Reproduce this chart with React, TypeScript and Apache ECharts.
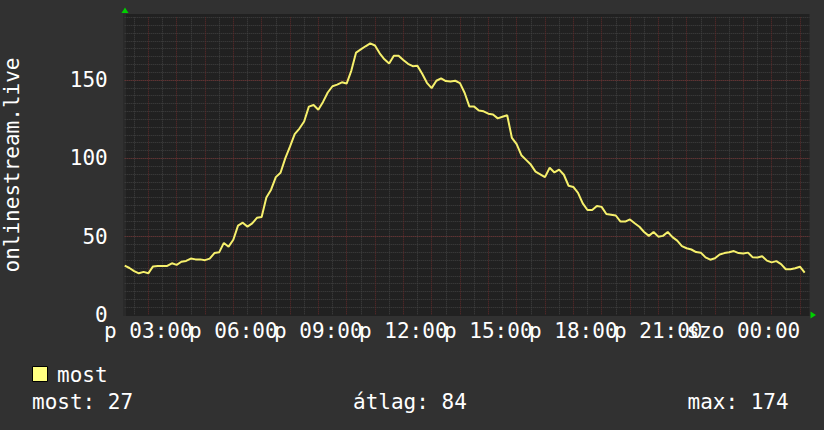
import React, { useEffect, useRef } from "react";
import * as echarts from "echarts";

// Time axis: 10-minute steps starting 02:10 (p = péntek), ending 02:20 next day (szo)
const START_MINUTE = 130;
const STEP_MINUTES = 10;
const CATEGORY_COUNT = 146;
const DAY_NAMES = ["p", "szo"];

const xTickLabels = [
  "p 03:00",
  "p 06:00",
  "p 09:00",
  "p 12:00",
  "p 15:00",
  "p 18:00",
  "p 21:00",
  "szo 00:00",
];
const yTickLabels = [0, 50, 100, 150];

const mostValues = [
  31.5, 30, 28, 26.6, 27.5, 26.6, 31, 31.3, 31.3, 31.3,
  33, 32, 34, 34.5, 36, 35.5, 35.5, 35, 36, 39.5,
  40, 46, 43.6, 48, 57, 58.9, 56.4, 58.5, 62, 62.5,
  75, 80, 88, 90.8, 100, 107.4, 115.5, 119, 123.5, 133,
  134, 131, 136, 142, 146, 147, 148.5, 147.7, 156, 167.5,
  169.5, 171.5, 173.4, 172, 167, 163.2, 160.5, 165.5, 165.5, 162.8,
  160.3, 158.8, 159, 154, 148.2, 144.8, 149.5, 151, 149.3, 149,
  149.5, 148, 141.7, 133, 133, 130.5, 130, 128.5, 128, 125.5,
  126.5, 127.5, 113, 109, 102, 99, 96, 91.5, 89.8, 88,
  94, 91, 92.8, 89.5, 82.5, 81.7, 78, 71.2, 67, 67,
  69.6, 69, 64.5, 64, 63.5, 59.6, 59.6, 61, 58.6, 56.3,
  53, 50.5, 53, 50, 50.5, 53, 49.7, 47.5, 44, 42.6,
  41.8, 40.2, 39.8, 36.8, 35.3, 36.2, 38.6, 39.5, 40, 40.8,
  39.5, 39.2, 39.8, 36.8, 36.7, 37.5, 34.7, 33.6, 34.4, 32.5,
  29.2, 29.2, 29.8, 30.8, 27,
];

const seriesName = "most";
const yTitle = "onlinestream.live";
const statTexts = ["most: 27", "átlag: 84", "max: 174"];

const pad = (n: number) => (n < 10 ? "0" + n : "" + n);
const categories: string[] = [];
const minuteOfCat: number[] = [];
for (let i = 0; i < CATEGORY_COUNT; i++) {
  const t = START_MINUTE + i * STEP_MINUTES;
  const day = DAY_NAMES[Math.floor(t / 1440)];
  const m = t % 1440;
  categories.push(day + " " + pad(Math.floor(m / 60)) + ":" + pad(m % 60));
  minuteOfCat.push(m);
}

const FONT = '"DejaVu Sans Mono"';
const GREY = "#424242";
const RED = "#622a2a";
const RED_H = "#723030";
const LINE = "#f6f06c";

export default function App() {
  const ref = useRef<HTMLDivElement>(null);
  useEffect(() => {
    if (!ref.current) return;
    const chart = echarts.init(ref.current, null, { renderer: "svg" });
    const isHalfHour = (i: number) => minuteOfCat[i] % 30 === 0;
    const isHour = (i: number) => minuteOfCat[i] % 60 === 0;
    const labelPos = (i: number) => xTickLabels.indexOf(categories[i]);
    // Labels split over two axes (alternating) so that neighbouring labels,
    // which touch each other as in the reference, are not auto-hidden.
    const labelStyle = {
      showMinLabel: true,
      showMaxLabel: true,
      hideOverlap: false,
      color: "#ffffff",
      fontFamily: FONT,
      fontSize: 21,
      margin: 5,
    };
    chart.setOption({
      animation: false,
      backgroundColor: "#313131",
      grid: {
        left: 124.7,
        right: 14.6,
        top: 17.3,
        bottom: 115,
        containLabel: false,
        outerBoundsMode: "none",
      },
      xAxis: [
        {
          type: "category",
          data: categories,
          boundaryGap: false,
          position: "bottom",
          axisLine: { show: false },
          axisTick: { show: false },
          axisLabel: {
            ...labelStyle,
            interval: (i: number) => labelPos(i) >= 0 && labelPos(i) % 2 === 0,
          },
          splitLine: {
            show: true,
            interval: (i: number) => isHour(i),
            lineStyle: { color: RED, type: [1, 1], width: 1 },
          },
          z: 1,
        },
        {
          type: "category",
          data: categories,
          boundaryGap: false,
          position: "bottom",
          axisLine: { show: false },
          axisTick: { show: false },
          axisLabel: {
            ...labelStyle,
            interval: (i: number) => labelPos(i) >= 0 && labelPos(i) % 2 === 1,
          },
          splitLine: {
            show: true,
            interval: (i: number) => isHalfHour(i) && !isHour(i),
            lineStyle: { color: GREY, type: [1, 1], width: 1 },
          },
          z: 0,
        },
      ],
      yAxis: [
        {
          type: "value",
          min: 0,
          max: 190,
          interval: 50,
          position: "left",
          axisLine: { show: false },
          axisTick: { show: false },
          axisLabel: {
            color: "#ffffff",
            fontFamily: FONT,
            fontSize: 21,
            margin: 17,
            showMaxLabel: false,
            formatter: (v: number) => (yTickLabels.indexOf(v) >= 0 ? String(v) : ""),
          },
          splitLine: {
            show: true,
            showMinLine: false,
            showMaxLine: false,
            lineStyle: { color: RED_H, type: [1, 1], width: 1 },
          },
          z: 1,
        },
        {
          type: "value",
          min: 0,
          max: 190,
          interval: 5,
          position: "left",
          axisLine: { show: false },
          axisTick: { show: false },
          axisLabel: { show: false },
          splitLine: {
            show: true,
            showMinLine: false,
            lineStyle: { color: GREY, type: [1, 1], width: 1 },
          },
          z: 0,
        },
      ],
      series: [
        {
          name: seriesName,
          type: "line",
          xAxisIndex: 0,
          yAxisIndex: 0,
          data: mostValues,
          showSymbol: false,
          symbol: "none",
          lineStyle: { color: LINE, width: 2 },
          z: 5,
        },
      ],
      graphic: [
        {
          type: "rect",
          z: -10,
          silent: true,
          shape: { x: 123, y: 14, width: 686.5, height: 302 },
          style: { fill: "#212121" },
        },
        {
          type: "rect",
          z: -9,
          silent: true,
          shape: { x: 123, y: 14, width: 3, height: 302 },
          style: { fill: "#2a2a2a" },
        },
        {
          type: "polygon",
          silent: true,
          shape: { points: [[121.5, 13], [128.5, 13], [125, 7.5]] },
          style: { fill: "#00d000" },
        },
        {
          type: "polygon",
          silent: true,
          shape: { points: [[810.5, 311.5], [810.5, 318.5], [816, 315]] },
          style: { fill: "#00d000" },
        },
        {
          type: "text",
          x: 12,
          y: 165,
          rotation: Math.PI / 2,
          silent: true,
          style: {
            text: yTitle,
            fill: "#ffffff",
            font: "21px " + FONT,
            align: "center",
            verticalAlign: "middle",
          },
        },
        {
          type: "rect",
          silent: true,
          shape: { x: 32.5, y: 366.5, width: 15, height: 15 },
          style: { fill: "#ffff80", stroke: "#000000", lineWidth: 1 },
        },
        {
          type: "text",
          x: 57,
          y: 374.8,
          silent: true,
          style: {
            text: seriesName,
            fill: "#ffffff",
            font: "21px " + FONT,
            align: "left",
            verticalAlign: "middle",
          },
        },
        {
          type: "text",
          x: 32,
          y: 401.8,
          silent: true,
          style: {
            text: statTexts[0],
            fill: "#ffffff",
            font: "21px " + FONT,
            align: "left",
            verticalAlign: "middle",
          },
        },
        {
          type: "text",
          x: 353,
          y: 401.8,
          silent: true,
          style: {
            text: statTexts[1],
            fill: "#ffffff",
            font: "21px " + FONT,
            align: "left",
            verticalAlign: "middle",
          },
        },
        {
          type: "text",
          x: 687.5,
          y: 401.8,
          silent: true,
          style: {
            text: statTexts[2],
            fill: "#ffffff",
            font: "21px " + FONT,
            align: "left",
            verticalAlign: "middle",
          },
        },
      ],
    });
    return () => chart.dispose();
  }, []);
  return (
    <div
      ref={ref}
      style={{ position: "fixed", left: 0, top: 0, width: 824, height: 430 }}
    />
  );
}
